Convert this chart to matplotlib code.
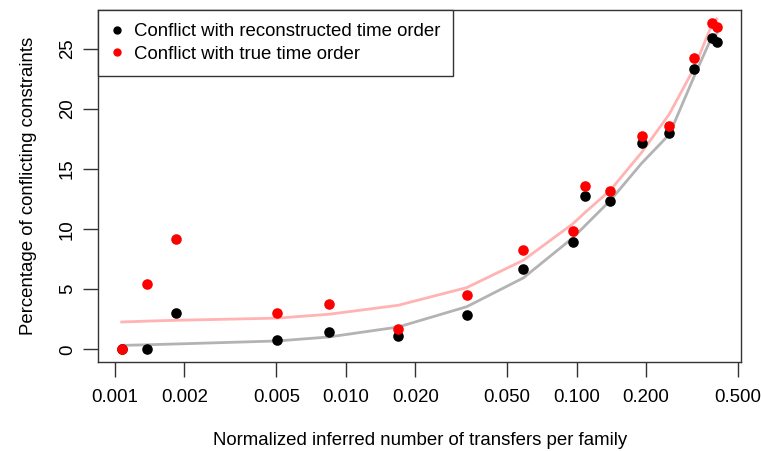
import matplotlib
matplotlib.use("Agg")
import matplotlib.pyplot as plt
from matplotlib.lines import Line2D

plt.rcParams['font.family'] = ['Liberation Sans', 'DejaVu Sans']

# ── Datos ────────────────────────────────────────────────────
transferencias = [0.00107, 0.00137, 0.001845, 0.00505, 0.00844, 0.01686,
                  0.0334, 0.0588, 0.0965, 0.1088, 0.140, 0.1914,
                  0.2523, 0.3226, 0.3848, 0.4046]
conflicto_reconstruido = [0.0, 0.0, 3.06, 0.75, 1.44, 1.08,
                          2.83, 6.67, 8.94, 12.78, 12.36, 17.22,
                          18.03, 23.33, 25.89, 25.61]
conflicto_verdadero = [0.0, 5.42, 9.17, 3.0, 3.78, 1.72,
                       4.5, 8.25, 9.83, 13.6, 13.19, 17.78,
                       18.61, 24.22, 27.2, 26.8]
# curvas suavizadas (lowess)
suave_reconstruido = [0.33, 0.38, 0.45, 0.7, 1.03, 1.86,
                      3.55, 5.95, 9.3, 10.3, 12.4, 15.5,
                      17.9, 22.7, 26.0, 26.3]
suave_verdadero = [2.28, 2.35, 2.42, 2.6, 2.92, 3.67,
                   5.14, 7.42, 10.47, 11.4, 13.25, 16.4,
                   19.6, 23.4, 27.0, 27.5]

ticks_x = [0.001, 0.002, 0.005, 0.010, 0.020, 0.050, 0.100, 0.200, 0.500]
etiquetas_x = ["0.001", "0.002", "0.005", "0.010", "0.020",
               "0.050", "0.100", "0.200", "0.500"]
ticks_y = [0, 5, 10, 15, 20, 25]

TAM = 13.4

# ── Figura ───────────────────────────────────────────────────
fig = plt.figure(figsize=(7.61, 4.51), dpi=100)
ax = fig.add_axes([0.1292, 0.1966, 0.8445, 0.7812])

ax.plot(transferencias, suave_reconstruido, color="#b3b3b3", lw=2.0, zorder=1)
ax.plot(transferencias, suave_verdadero, color="#ffb3b3", lw=2.0, zorder=1)
ax.scatter(transferencias, conflicto_reconstruido, s=58, color="black",
           linewidths=0, zorder=2)
ax.scatter(transferencias, conflicto_verdadero, s=58, color="red",
           linewidths=0, zorder=3)

ax.set_xscale("log")
ax.set_xlim(10 ** -3.072, 10 ** -0.288)
ax.set_ylim(-1.08, 28.25)
ax.set_xticks(ticks_x)
ax.set_xticklabels(etiquetas_x)
ax.minorticks_off()
ax.set_yticks(ticks_y)
ax.set_yticklabels([str(v) for v in ticks_y], rotation=90, va="center")

ax.tick_params(axis="both", length=11, width=1, labelsize=TAM,
               direction="out", color="#333333")
ax.tick_params(axis="x", pad=8)
ax.tick_params(axis="y", pad=5)
for sp in ax.spines.values():
    sp.set_color("#333333")
    sp.set_linewidth(1)

ax.set_xlabel("Normalized inferred number of transfers per family",
              fontsize=TAM, labelpad=19)
ax.set_ylabel("Percentage of conflicting constraints", fontsize=TAM,
              labelpad=16)

manejadores = [
    Line2D([], [], marker="o", ls="none", color="black", markersize=5),
    Line2D([], [], marker="o", ls="none", color="red", markersize=5),
]
ley = ax.legend(manejadores,
                ["Conflict with reconstructed time order",
                 "Conflict with true time order"],
                loc="upper left", borderaxespad=0, fontsize=TAM,
                fancybox=False, framealpha=1, edgecolor="#333333",
                handlelength=0.6, handletextpad=0.6, borderpad=0.7,
                labelspacing=0.3)
ley.get_frame().set_linewidth(1)

fig.savefig("out.png", dpi=100)
plt.close(fig)
